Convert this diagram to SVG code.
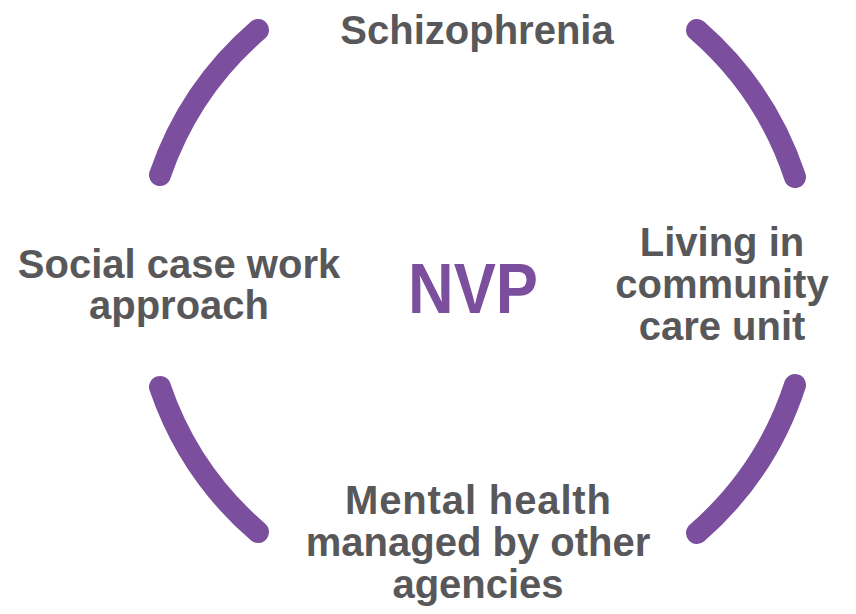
<svg xmlns="http://www.w3.org/2000/svg" width="856" height="614" viewBox="0 0 856 614">
<style>
.arc{fill:none;stroke:#7b4f9d;stroke-width:22;stroke-linecap:round}
.lbl{font-family:"Liberation Sans",Arial,sans-serif;font-weight:bold;font-size:40px;fill:#58585a;text-anchor:middle}
.ctr{font-family:"Liberation Sans",Arial,sans-serif;font-weight:bold;font-size:70px;fill:#7b4f9d;text-anchor:middle}
</style>
<rect width="856" height="614" fill="#ffffff"/>
<g id="connectors">
<path class="arc" d="M160 175 A334 334 0 0 1 258 30"/>
<path class="arc" d="M697 30 A334 334 0 0 1 795 177"/>
<path class="arc" d="M795 385 A334 334 0 0 1 697 533"/>
<path class="arc" d="M258 532 A334 334 0 0 1 160 387"/>
</g>
<g id="center"><text class="ctr" x="473" y="313" textLength="130" lengthAdjust="spacingAndGlyphs">NVP</text></g>
<g id="schizophrenia"><text class="lbl" x="477" y="44">Schizophrenia</text></g>
<g id="living"><text class="lbl" x="722" y="256">Living in</text><text class="lbl" x="722" y="298">community</text><text class="lbl" x="722" y="340">care unit</text></g>
<g id="mental"><text class="lbl" x="478" y="514" textLength="266" lengthAdjust="spacing">Mental health</text><text class="lbl" x="478" y="556">managed by other</text><text class="lbl" x="478" y="598">agencies</text></g>
<g id="social"><text class="lbl" x="179" y="278">Social case work</text><text class="lbl" x="179" y="319">approach</text></g>
</svg>
